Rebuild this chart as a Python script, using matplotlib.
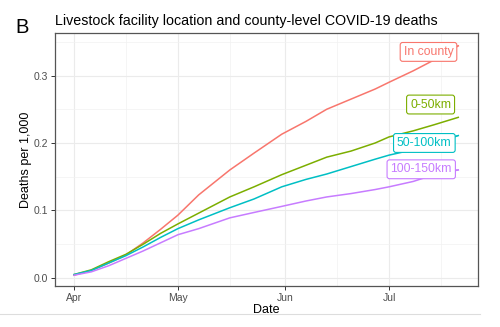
import numpy as np
import pandas as pd
import matplotlib
matplotlib.use("Agg")
import matplotlib.pyplot as plt
import matplotlib.dates as mdates

plt.rcParams['font.family'] = ['Liberation Sans', 'DejaVu Sans']

# days after 2020-04-01
days = [0, 5, 10, 15, 20, 25, 30, 36, 45, 52, 60, 67, 73, 80, 87, 91, 98, 104, 111]
in_county = [0.004, 0.011, 0.022, 0.034, 0.052, 0.072, 0.093, 0.123, 0.160, 0.185,
             0.213, 0.232, 0.250, 0.265, 0.280, 0.290, 0.307, 0.323, 0.344]
km0_50 = [0.005, 0.012, 0.024, 0.035, 0.050, 0.066, 0.080, 0.096, 0.120, 0.135,
          0.153, 0.167, 0.179, 0.188, 0.200, 0.209, 0.218, 0.227, 0.238]
km50_100 = [0.005, 0.011, 0.022, 0.033, 0.046, 0.060, 0.073, 0.086, 0.104, 0.117,
            0.135, 0.146, 0.154, 0.165, 0.176, 0.182, 0.190, 0.199, 0.211]
km100_150 = [0.004, 0.009, 0.018, 0.029, 0.040, 0.052, 0.064, 0.073, 0.089, 0.097,
             0.106, 0.114, 0.120, 0.125, 0.131, 0.135, 0.143, 0.153, 0.160]

names = ['In county', '0-50km', '50-100km', '100-150km']
colors = ['#F8766D', '#7CAE00', '#00BFC4', '#C77CFF']
# label centre (days, value) and whether a connector segment shows
label_pos = [(102.4, 0.335), (103.0, 0.257), (101.2, 0.200), (100.3, 0.161)]
show_seg = [True, False, True, True]

start = pd.Timestamp('2020-04-01')
dates = start + pd.to_timedelta(days, unit='D')

fig = plt.figure(figsize=(5, 3.27), dpi=100)
ax = fig.add_axes([0.11, 0.1254, 0.846, 0.7736])

for vals, name, col, (ld, lv), seg in zip([in_county, km0_50, km50_100, km100_150],
                                          names, colors, label_pos, show_seg):
    ax.plot(dates, vals, color=col, lw=1.1, zorder=3)
    arrow = dict(arrowstyle='-', color=col, lw=0.8, shrinkA=0, shrinkB=0) if seg else None
    ax.annotate(name, xy=(dates[-1], vals[-1]),
                xytext=(start + pd.Timedelta(days=ld), lv),
                ha='center', va='center', fontsize=8.8, color=col, zorder=5,
                bbox=dict(boxstyle='round,pad=0.28,rounding_size=0.2', fc='white',
                          ec=col, lw=0.8),
                arrowprops=arrow)

ax.set_xlim(start - pd.Timedelta(days=5.5), start + pd.Timedelta(days=116.7))
ax.set_ylim(-0.012, 0.363)

ax.xaxis.set_major_locator(mdates.MonthLocator())
ax.xaxis.set_major_formatter(mdates.DateFormatter('%b'))
ax.xaxis.set_minor_locator(mdates.MonthLocator(bymonthday=16))
ax.set_yticks([0.0, 0.1, 0.2, 0.3])
ax.set_yticklabels(['0.0', '0.1', '0.2', '0.3'])
ax.set_yticks([0.05, 0.15, 0.25, 0.35], minor=True)

ax.grid(which='major', color='#EBEBEB', lw=0.8, zorder=0)
ax.grid(which='minor', color='#F2F2F2', lw=0.5, zorder=0)
ax.set_axisbelow(True)
for s in ax.spines.values():
    s.set_color('#555555')
    s.set_linewidth(0.9)
ax.tick_params(which='major', length=3, width=0.7, color='#333333',
               labelsize=7.5, labelcolor='#4D4D4D', pad=2)
ax.tick_params(which='minor', length=0)

ax.set_xlabel('Date', fontsize=9, labelpad=1)
ax.set_ylabel('Deaths per 1,000', fontsize=9, labelpad=1)

fig.text(0.11, 0.924, 'Livestock facility location and county-level COVID-19 deaths',
         fontsize=10.3, va='baseline', ha='left')
fig.text(0.03, 0.90, 'B', fontsize=14.5, va='baseline', ha='left')

fig.add_artist(plt.Line2D([0, 0.96], [0.04, 0.04], color='#DDDDDD', lw=0.8))

fig.savefig('out.png', dpi=100)
